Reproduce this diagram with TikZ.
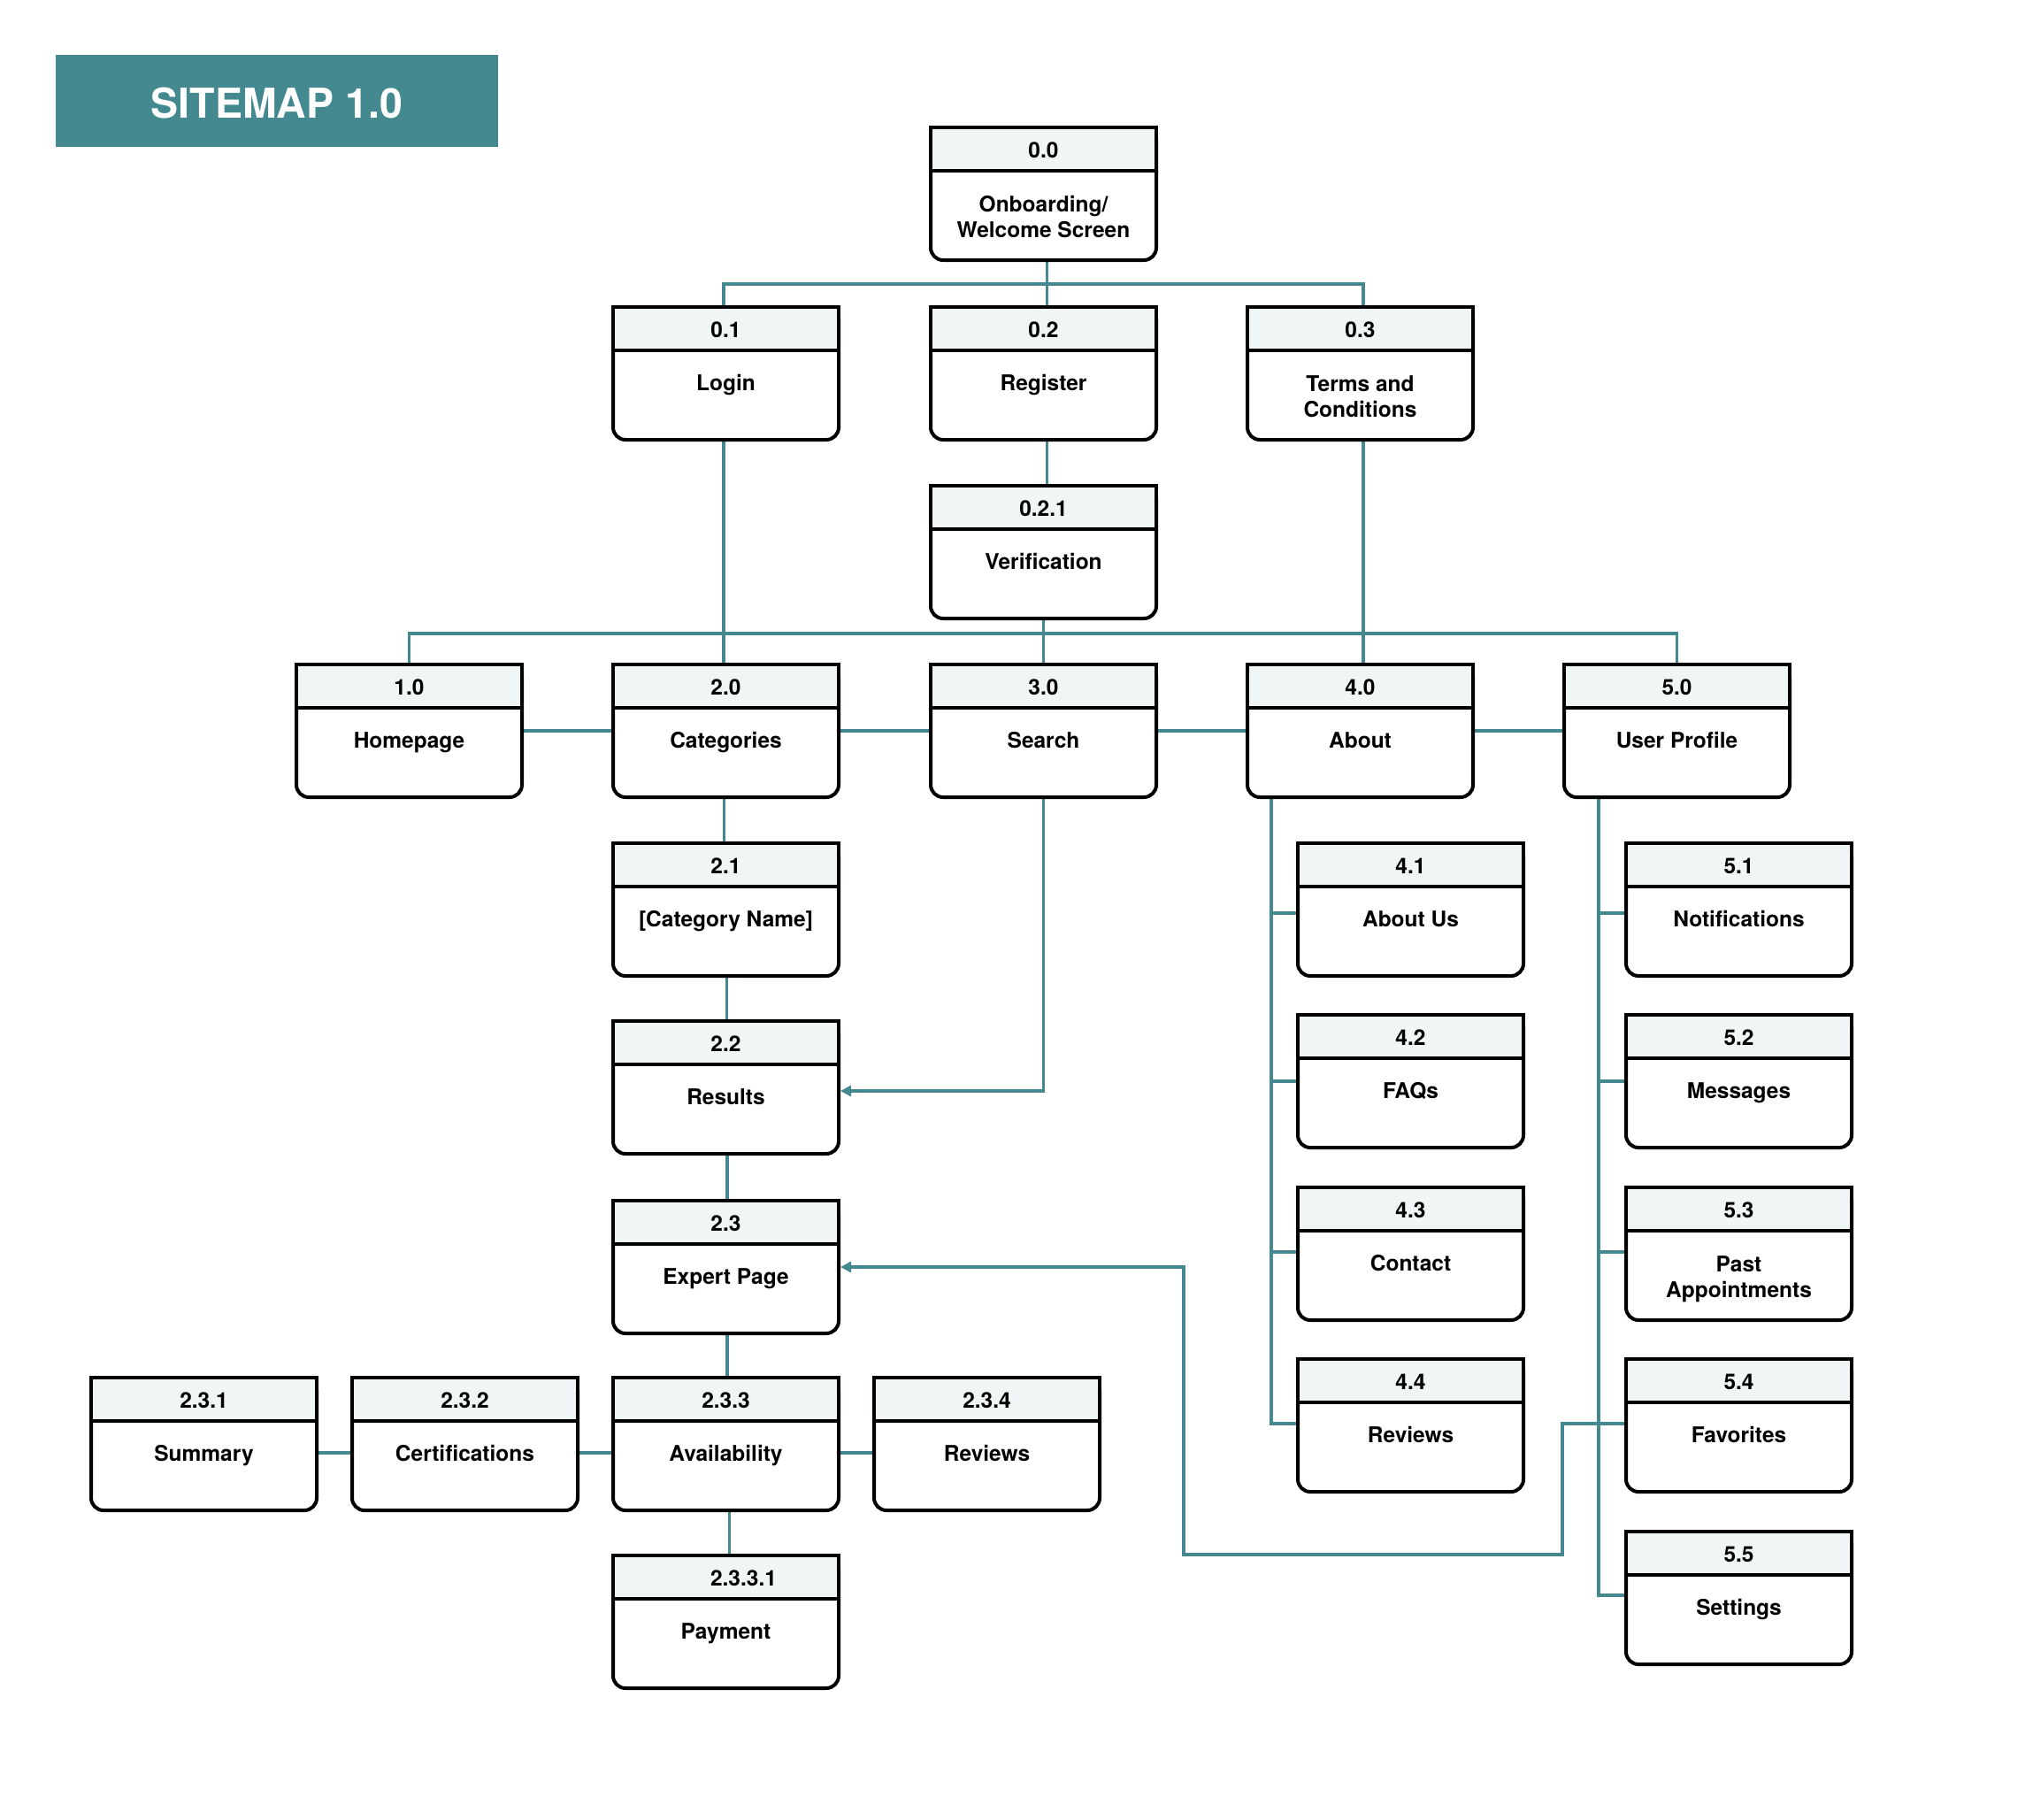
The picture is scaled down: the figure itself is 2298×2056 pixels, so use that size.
\documentclass[tikz,border=0pt]{standalone}
\usepackage{fontspec}
\setmainfont{TeX Gyre Heros}
\usetikzlibrary{arrows.meta}

\definecolor{smteal}{RGB}{67,137,143}
\definecolor{hdrfill}{RGB}{240,245,245}

\pgfdeclarelayer{bg}
\pgfsetlayers{bg,main}

\tikzset{
  pg/.style={draw=black, line width=4pt, rounded corners=14pt, fill=white,
    minimum width=255pt, minimum height=150pt, inner sep=0pt, outer sep=0pt,
    anchor=north west},
  pghead/.style={draw=black, line width=4pt, fill=hdrfill},
  numtxt/.style={anchor=base, inner sep=0pt, font=\fontsize{24.5}{29}\selectfont\bfseries},
  lbltxt/.style={anchor=base, inner sep=0pt, font=\fontsize{24.5}{29}\selectfont\bfseries},
  conn/.style={draw=smteal, line width=3.5pt},
  arrowconn/.style={conn, -{Triangle[length=12pt,width=12pt]}},
  titlebox/.style={fill=smteal, text=white, minimum width=500pt, minimum height=104pt,
    inner sep=0pt, text height=38pt, text depth=0pt,
    font=\fontsize{46.5}{50}\selectfont\bfseries},
}

% page box: name, left x, top y, number, label
\newcommand{\pagebox}[5]{%
  \node[pg] (#1) at (#2,#3) {};
  \draw[pghead] (#1.north west) rectangle ([yshift=-49pt]#1.north east);
  \node[numtxt] (#1-num) at ([yshift=-34.8pt]#1.north) {#4};
  \node[lbltxt] (#1-txt) at ([yshift=-94.3pt]#1.north) {#5};
}
\newcommand{\pglines}[2]{\raisebox{-1.5pt}{\begin{tabular}[t]{@{}c@{}}#1\\#2\end{tabular}}}

\begin{document}
\begin{tikzpicture}[x=1pt,y=-1pt]
\useasboundingbox (0,0) rectangle (2298,2056);

\node[titlebox] (title) at (313,114) {SITEMAP 1.0};

% level 0
\pagebox{b00}{1052}{144}{0.0}{\pglines{Onboarding/}{Welcome Screen}}
\pagebox{b01}{693}{347}{0.1}{Login}
\pagebox{b02}{1052}{347}{0.2}{Register}
\pagebox{b03}{1410}{347}{0.3}{\pglines{Terms and}{Conditions}}
\pagebox{b021}{1052}{549}{0.2.1}{Verification}

% main sections
\pagebox{b10}{335}{751}{1.0}{Homepage}
\pagebox{b20}{693}{751}{2.0}{Categories}
\pagebox{b30}{1052}{751}{3.0}{Search}
\pagebox{b40}{1410}{751}{4.0}{About}
\pagebox{b50}{1768}{751}{5.0}{User Profile}

% categories branch
\pagebox{b21}{693}{953}{2.1}{[Category Name]}
\pagebox{b22}{693}{1154}{2.2}{Results}
\pagebox{b23}{693}{1357}{2.3}{Expert Page}
\pagebox{b231}{103}{1557}{2.3.1}{Summary}
\pagebox{b232}{398}{1557}{2.3.2}{Certifications}
\pagebox{b233}{693}{1557}{2.3.3}{Availability}
\pagebox{b234}{988}{1557}{2.3.4}{Reviews}
\pagebox{b2331}{693}{1758}{\hspace*{40pt}2.3.3.1}{Payment}

% about branch
\pagebox{b41}{1467}{953}{4.1}{About Us}
\pagebox{b42}{1467}{1147}{4.2}{FAQs}
\pagebox{b43}{1467}{1342}{4.3}{Contact}
\pagebox{b44}{1467}{1536}{4.4}{Reviews}

% user profile branch
\pagebox{b51}{1838}{953}{5.1}{Notifications}
\pagebox{b52}{1838}{1147}{5.2}{Messages}
\pagebox{b53}{1838}{1342}{5.3}{\pglines{Past}{Appointments}}
\pagebox{b54}{1838}{1536}{5.4}{Favorites}
\pagebox{b55}{1838}{1731}{5.5}{Settings}

\coordinate (fv1) at (1766,1757);
\coordinate (fv2) at (1338,1600);

\begin{pgfonlayer}{bg}
  \fill[white] (0,0) rectangle (2298,2056);

  % onboarding level
  \draw[conn] ([xshift=-2.5pt]b01.north) -- ++(0,-26) -| ([xshift=3.5pt]b03.north);
  \draw[conn] ([xshift=4pt]b00.south) -- ([xshift=4pt]b02.north);
  \draw[conn] ([xshift=4pt]b02.south) -- ([xshift=4pt]b021.north);
  \draw[conn] ([xshift=-2.5pt]b01.south) -- ([xshift=-2.5pt]b20.north);
  \draw[conn] ([xshift=3.5pt]b03.south) -- ([xshift=3.5pt]b40.north);
  \draw[conn] (b021.south) -- (b30.north);
  \draw[conn] (b10.north) -- ++(0,-35) -| (b50.north);

  % section row
  \draw[conn] (b10.east) -- (b20.west);
  \draw[conn] (b20.east) -- (b30.west);
  \draw[conn] (b30.east) -- (b40.west);
  \draw[conn] (b40.east) -- (b50.west);

  % categories chain
  \draw[conn] ([xshift=-2pt]b20.south) -- ([xshift=-2pt]b21.north);
  \draw[conn] ([xshift=1pt]b21.south) -- ([xshift=1pt]b22.north);
  \draw[conn] ([xshift=1.5pt]b22.south) -- ([xshift=1.5pt]b23.north);
  \draw[conn] ([xshift=1.5pt]b23.south) -- ([xshift=1.5pt]b233.north);
  \draw[conn] ([xshift=4pt]b233.south) -- ([xshift=4pt]b2331.north);
  \draw[conn] ([yshift=-10pt]b231.east) -- ([yshift=-10pt]b232.west);
  \draw[conn] ([yshift=-10pt]b232.east) -- ([yshift=-10pt]b233.west);
  \draw[conn] ([yshift=-10pt]b233.east) -- ([yshift=-10pt]b234.west);

  % search leads to results
  \draw[arrowconn] (b30.south) |- ([xshift=2pt,yshift=-4pt]b22.east);

  % about subpages
  \foreach \n/\s in {41/-4,42/0,43/2,44/2}
    \draw[conn] ([xshift=-100.5pt]b40.south) |- ([yshift=\s pt]b\n.west);

  % user profile subpages
  \foreach \n/\s in {51/-4,52/0,53/2,54/2,55/3}
    \draw[conn] ([xshift=-88.5pt]b50.south) |- ([yshift=\s pt]b\n.west);

  % favorites lead to expert page
  \draw[arrowconn] ([yshift=2pt]b54.west) -| (fv1) -| (fv2) |- ([xshift=2pt]b23.east);
\end{pgfonlayer}
\end{tikzpicture}
\end{document}
